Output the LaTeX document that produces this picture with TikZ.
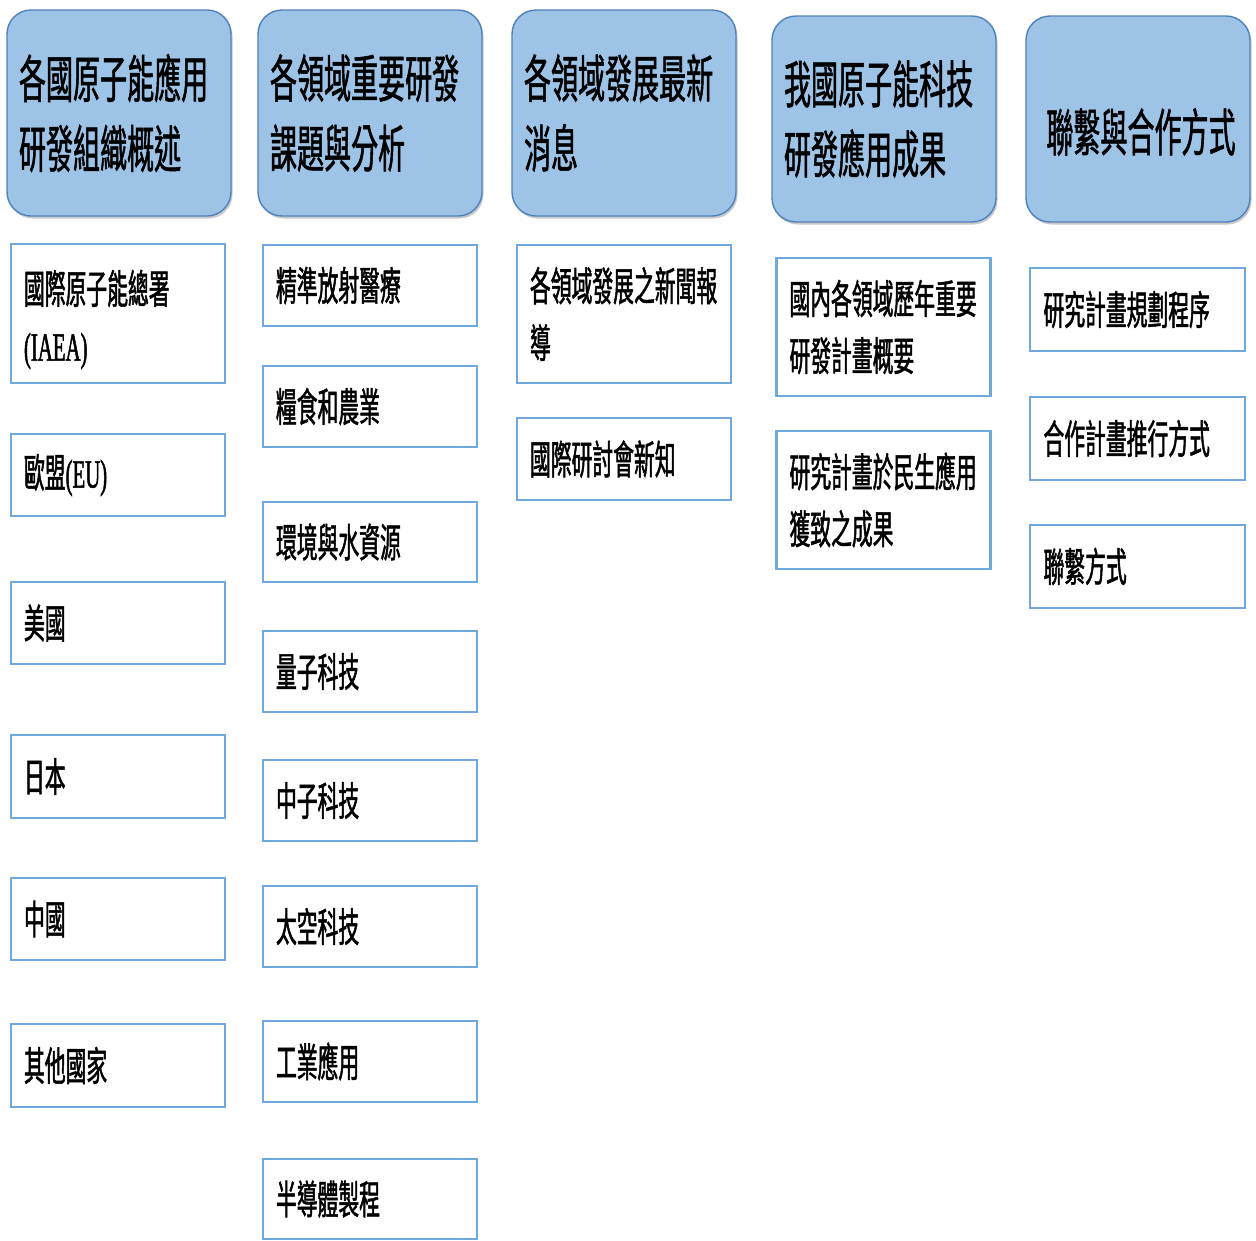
\documentclass[tikz,border=0pt]{standalone}
\usepackage{fontspec}
\newfontfamily\cjk[FakeStretch=0.52,FakeBold=1.2]{Noto Sans CJK TC}
\newfontfamily\lat[FakeStretch=0.52,FakeBold=1.2]{Liberation Serif}
\newfontfamily\cjkh[FakeStretch=0.53,FakeBold=1.0]{Noto Sans CJK TC}
\usetikzlibrary{shadows}
\definecolor{hdrfill}{HTML}{9DC3E6}
\definecolor{hdrdraw}{HTML}{4F81BD}
\definecolor{itemdraw}{HTML}{6FA8DC}
\tikzset{
  hdr/.style={draw=hdrdraw, line width=1.4pt, fill=hdrfill, rounded corners=24pt,
    minimum width=224pt, minimum height=206pt, inner xsep=12pt, inner ysep=0pt,
    text width=200pt, align=left,
    font=\cjkh\fontsize{51}{70}\selectfont,
    drop shadow={shadow xshift=1.5pt, shadow yshift=-2.5pt, opacity=0.35, fill=black!60}},
  hdrtext/.style={inner sep=0pt, align=center, font=\cjkh\fontsize{51}{70}\selectfont},
  itembox/.style={draw=itemdraw, line width=2.6pt, fill=white,
    minimum width=214pt, inner xsep=13pt, inner ysep=0pt,
    text width=188pt, align=left,
    font=\cjk\fontsize{40}{57}\selectfont},
  itemtext/.style={inner xsep=13pt, inner ysep=0pt, text width=188pt, align=left,
    font=\cjk\fontsize{40}{57}\selectfont},
}
\begin{document}
\begin{tikzpicture}[x=1pt,y=-1pt]
\useasboundingbox[fill=white] (0,0) rectangle (1256,1240);
% headers
\node[hdr, minimum width=222pt] (h1) at (119,113) {各國原子能應用\\研發組織概述};
\node[hdr] (h2) at (370,113) {各領域重要研發\\課題與分析};
\node[hdr] (h3) at (624,113) {各領域發展最新\\消息};
\node[hdr] (h4) at (884,119) {我國原子能科技\\研發應用成果};
\node[hdr] (h5) at (1138,119) {};
\node[hdrtext] (h5t) at ([xshift=3pt,yshift=-13pt]h5.center) {聯繫與合作方式};
% column 1
\node[itembox, minimum width=212pt, minimum height=139pt] (a1) at (118,313.5) {};
\node[itemtext] (a1t) at ([yshift=-6pt]a1.center) {國際原子能總署\\{\lat (IAEA)}};
\node[itembox, minimum width=212pt, minimum height=82pt] (a2) at (118,475) {歐盟{\lat (EU)}};
\node[itembox, minimum width=212pt, minimum height=82pt] (a3) at (118,623) {美國};
\node[itembox, minimum width=212pt, minimum height=83pt] (a4) at (118,776.5) {日本};
\node[itembox, minimum width=212pt, minimum height=82pt] (a5) at (118,919) {中國};
\node[itembox, minimum width=212pt, minimum height=83pt] (a6) at (118,1065.5) {其他國家};
% column 2
\node[itembox, minimum height=81pt] (b1) at (370,285.5) {精準放射醫療};
\node[itembox, minimum height=81pt] (b2) at (370,406.5) {糧食和農業};
\node[itembox, minimum height=80pt] (b3) at (370,542) {環境與水資源};
\node[itembox, minimum height=81pt] (b4) at (370,671.5) {量子科技};
\node[itembox, minimum height=81pt] (b5) at (370,800.5) {中子科技};
\node[itembox, minimum height=81pt] (b6) at (370,926.5) {太空科技};
\node[itembox, minimum height=81pt] (b7) at (370,1061.5) {工業應用};
\node[itembox, minimum height=80pt] (b8) at (370,1199) {半導體製程};
% column 3
\node[itembox, minimum height=138pt] (c1) at (624,314) {各領域發展之新聞報\\導};
\node[itembox, minimum height=82pt] (c2) at (624,459) {國際研討會新知};
% column 4
\node[itembox, minimum width=213pt, minimum height=138pt] (d1) at (883.5,327) {國內各領域歷年重要\\研發計畫概要};
\node[itembox, minimum width=213pt, minimum height=138pt] (d2) at (883.5,500) {研究計畫於民生應用\\獲致之成果};
% column 5
\node[itembox, minimum width=215pt, minimum height=83pt] (e1) at (1137.5,309.5) {研究計畫規劃程序};
\node[itembox, minimum width=215pt, minimum height=83pt] (e2) at (1137.5,438.5) {合作計畫推行方式};
\node[itembox, minimum width=215pt, minimum height=83pt] (e3) at (1137.5,566.5) {聯繫方式};
\end{tikzpicture}
\end{document}
